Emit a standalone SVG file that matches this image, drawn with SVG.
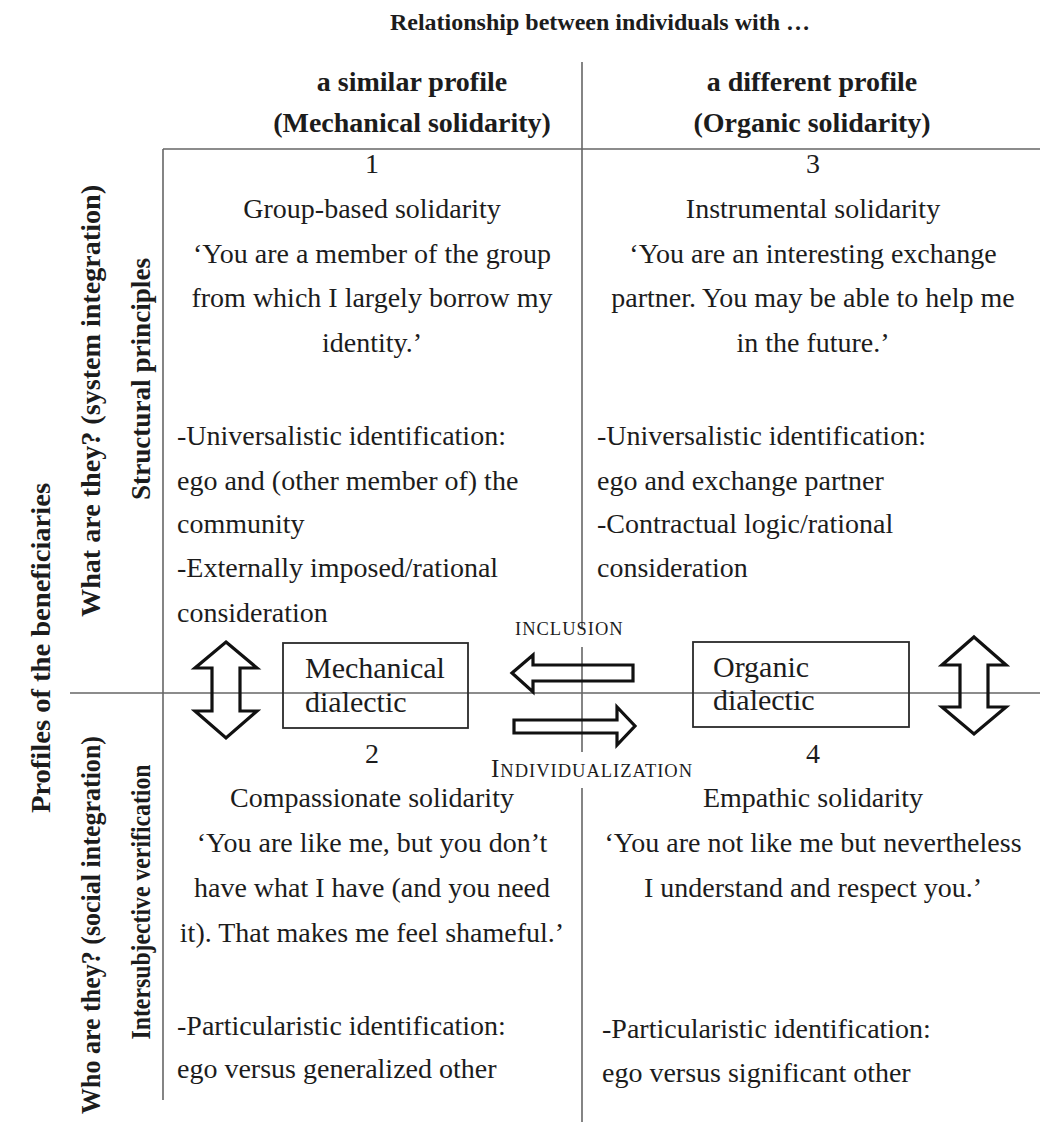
<svg xmlns="http://www.w3.org/2000/svg" width="1040" height="1122" viewBox="0 0 1040 1122">
<style>
  text { font-family: "Liberation Serif", "Times New Roman", serif; fill: #1c1c1c; }
  .hdr { font-size: 28px; font-weight: bold; text-anchor: middle; }
  .title { font-size: 24px; font-weight: bold; text-anchor: middle; }
  .side { font-size: 28px; font-weight: bold; text-anchor: middle; }
  .body { font-size: 28px; }
  .c { text-anchor: middle; }
  .dia { font-size: 30px; }
  .sc { font-size: 18.5px; letter-spacing: 1px; }
  .grid { stroke: #666; stroke-width: 1.6; fill: none; }
  .box { stroke: #2a2a2a; stroke-width: 1.8; fill: none; }
  .arrow { stroke: #111; stroke-width: 3.2; fill: none; stroke-linejoin: miter; }
</style>

<g id="grid">
  <line class="grid" x1="163" y1="149" x2="1040" y2="149"/>
  <line class="grid" x1="163" y1="149" x2="163" y2="1100"/>
  <line class="grid" x1="70" y1="693" x2="1040" y2="693"/>
  <line class="grid" x1="582" y1="62" x2="582" y2="627"/>
  <line class="grid" x1="582" y1="647" x2="582" y2="752"/>
  <line class="grid" x1="582" y1="788" x2="582" y2="1122"/>
</g>

<g id="title">
  <text class="title" x="600" y="30">Relationship between individuals with …</text>
</g>

<g id="col-similar">
  <text class="hdr" x="412" y="91">a similar profile</text>
  <text class="hdr" x="412" y="132">(Mechanical solidarity)</text>
</g>
<g id="col-different">
  <text class="hdr" x="812" y="91">a different profile</text>
  <text class="hdr" x="812" y="132">(Organic solidarity)</text>
</g>

<g id="row-labels">
  <text class="side" transform="translate(50,648) rotate(-90)" textLength="330" lengthAdjust="spacingAndGlyphs">Profiles of the beneficiaries</text>
  <text class="side" transform="translate(100,401) rotate(-90)" textLength="432" lengthAdjust="spacingAndGlyphs">What are they? (system integration)</text>
  <text class="side" transform="translate(150,379) rotate(-90)" textLength="242" lengthAdjust="spacingAndGlyphs">Structural principles</text>
  <text class="side" transform="translate(100,925) rotate(-90)" textLength="378" lengthAdjust="spacingAndGlyphs">Who are they? (social integration)</text>
  <text class="side" transform="translate(150,902) rotate(-90)" textLength="275" lengthAdjust="spacingAndGlyphs">Intersubjective verification</text>
</g>

<g id="q1">
  <text class="body c" x="372" y="173">1</text>
  <text class="body c" x="372" y="218">Group-based solidarity</text>
  <text class="body c" x="372" y="263">‘You are a member of the group</text>
  <text class="body c" x="372" y="307">from which I largely borrow my</text>
  <text class="body c" x="372" y="352">identity.’</text>
  <text class="body" x="177" y="445">-Universalistic identification:</text>
  <text class="body" x="177" y="490">ego and (other member of) the</text>
  <text class="body" x="177" y="533">community</text>
  <text class="body" x="177" y="577">-Externally imposed/rational</text>
  <text class="body" x="177" y="622">consideration</text>
</g>

<g id="q3">
  <text class="body c" x="813" y="173">3</text>
  <text class="body c" x="813" y="218">Instrumental solidarity</text>
  <text class="body c" x="813" y="263">‘You are an interesting exchange</text>
  <text class="body c" x="813" y="307">partner. You may be able to help me</text>
  <text class="body c" x="813" y="352">in the future.’</text>
  <text class="body" x="597" y="445">-Universalistic identification:</text>
  <text class="body" x="597" y="490">ego and exchange partner</text>
  <text class="body" x="597" y="533">-Contractual logic/rational</text>
  <text class="body" x="597" y="577">consideration</text>
</g>

<g id="q2">
  <text class="body c" x="372" y="763">2</text>
  <text class="body c" x="372" y="807">Compassionate solidarity</text>
  <text class="body c" x="372" y="852">‘You are like me, but you don’t</text>
  <text class="body c" x="372" y="897">have what I have (and you need</text>
  <text class="body c" x="372" y="942">it). That makes me feel shameful.’</text>
  <text class="body" x="177" y="1035">-Particularistic identification:</text>
  <text class="body" x="177" y="1078">ego versus generalized other</text>
</g>

<g id="q4">
  <text class="body c" x="813" y="763">4</text>
  <text class="body c" x="813" y="807">Empathic solidarity</text>
  <text class="body c" x="813" y="852">‘You are not like me but nevertheless</text>
  <text class="body c" x="813" y="897">I understand and respect you.’</text>
  <text class="body" x="602" y="1038">-Particularistic identification:</text>
  <text class="body" x="602" y="1082">ego versus significant other</text>
</g>

<g id="mechanical-dialectic">
  <rect class="box" x="283" y="643" width="185" height="85"/>
  <text class="dia" x="305" y="678">Mechanical</text>
  <text class="dia" x="305" y="712">dialectic</text>
</g>

<g id="organic-dialectic">
  <rect class="box" x="693" y="642" width="216" height="85"/>
  <text class="dia" x="713" y="677">Organic</text>
  <text class="dia" x="713" y="710">dialectic</text>
</g>

<g id="connectors">
  <polygon class="arrow" points="226,642 257,668 240,668 240,711 257,711 226,738 195,711 212,711 212,668 195,668"/>
  <polygon class="arrow" points="974,637 1006,665 988,665 988,707 1006,707 974,734 942,707 960,707 960,665 942,665"/>
  <polygon class="arrow" points="512,673 533,655 533,665 633,665 633,681 533,681 533,692"/>
  <polygon class="arrow" points="514,720 617,720 617,707 635,726 617,745 617,733 514,733"/>
  <text class="sc" x="515" y="635">INCLUSION</text>
  <text class="sc" x="491" y="777"><tspan style="font-size:25px">I</tspan>NDIVIDUALIZATION</text>
</g>
</svg>
